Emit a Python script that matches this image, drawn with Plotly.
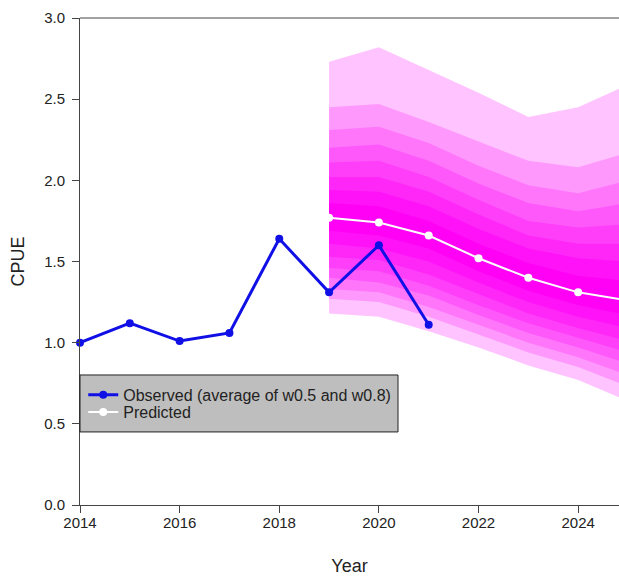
import plotly.graph_objects as go

# Observed CPUE (average of w0.5 and w0.8)
obs_years = [2014, 2015, 2016, 2017, 2018, 2019, 2020, 2021]
obs_cpue = [1.00, 1.12, 1.01, 1.06, 1.64, 1.31, 1.60, 1.11]

# Predicted median CPUE
pred_years = [2019, 2020, 2021, 2022, 2023, 2024, 2025]
pred_median = [1.77, 1.74, 1.66, 1.52, 1.40, 1.31, 1.26]

# Fan band edges, outermost first (upper side)
upper_edges = [
    [2.73, 2.82, 2.68, 2.54, 2.39, 2.45, 2.59],
    [2.45, 2.47, 2.36, 2.24, 2.12, 2.08, 2.17],
    [2.31, 2.33, 2.23, 2.09, 1.97, 1.92, 2.00],
    [2.20, 2.22, 2.12, 1.98, 1.86, 1.81, 1.86],
    [2.11, 2.12, 2.02, 1.88, 1.75, 1.71, 1.73],
    [2.02, 2.02, 1.93, 1.79, 1.66, 1.61, 1.61],
    [1.94, 1.93, 1.84, 1.70, 1.58, 1.52, 1.50],
    [1.86, 1.84, 1.75, 1.61, 1.49, 1.41, 1.38],
]
# Fan band edges, outermost first (lower side)
lower_edges = [
    [1.18, 1.16, 1.07, 0.97, 0.86, 0.77, 0.64],
    [1.27, 1.25, 1.16, 1.05, 0.94, 0.85, 0.73],
    [1.33, 1.31, 1.22, 1.11, 1.00, 0.91, 0.80],
    [1.40, 1.37, 1.29, 1.17, 1.06, 0.97, 0.87],
    [1.46, 1.44, 1.35, 1.23, 1.12, 1.03, 0.94],
    [1.53, 1.51, 1.42, 1.30, 1.18, 1.09, 1.01],
    [1.61, 1.58, 1.50, 1.37, 1.25, 1.16, 1.09],
    [1.69, 1.66, 1.58, 1.44, 1.32, 1.23, 1.17],
]
band_colors = [
    "rgb(255,196,255)",
    "rgb(255,152,253)",
    "rgb(255,118,251)",
    "rgb(255,88,250)",
    "rgb(255,62,249)",
    "rgb(255,38,248)",
    "rgb(255,18,247)",
    "rgb(255,2,246)",
]

y_ticks = [0.0, 0.5, 1.0, 1.5, 2.0, 2.5, 3.0]
x_ticks = [2014, 2016, 2018, 2020, 2022, 2024]

fig = go.Figure()

# Fan: nested bands drawn outermost to innermost
for hi, lo, col in zip(upper_edges, lower_edges, band_colors):
    fig.add_trace(go.Scatter(
        x=pred_years + pred_years[::-1],
        y=hi + lo[::-1],
        fill="toself",
        fillcolor=col,
        line=dict(width=0),
        mode="lines",
        hoverinfo="skip",
        showlegend=False,
    ))

# Predicted median line
fig.add_trace(go.Scatter(
    x=pred_years, y=pred_median,
    mode="lines+markers",
    name="Predicted",
    line=dict(color="white", width=2),
    marker=dict(color="white", size=8),
    legend="legend2",
))

# Observed series, drawn on top
fig.add_trace(go.Scatter(
    x=obs_years, y=obs_cpue,
    mode="lines+markers",
    name="Observed (average of w0.5 and w0.8)",
    line=dict(color="#1010E6", width=3),
    marker=dict(color="#1010E6", size=8),
    cliponaxis=False,
    legend="legend",
))

font_family = "Liberation Sans, Arial, sans-serif"
axis_font = dict(family=font_family, size=15, color="#222")
legend_font = dict(family=font_family, size=16, color="#222")

legend_common = dict(
    xanchor="left", yanchor="middle",
    bgcolor="rgba(0,0,0,0)", borderwidth=0,
    font=legend_font, itemwidth=30,
)

fig.update_layout(
    width=619, height=576,
    margin=dict(l=80, r=0, t=18, b=71),
    plot_bgcolor="white",
    paper_bgcolor="white",
    font=axis_font,
    legend=dict(x=0.006, y=0.226, **legend_common),
    legend2=dict(x=0.006, y=0.191, **legend_common),
    xaxis=dict(
        range=[2014, 2024.82],
        tickvals=x_ticks,
        ticks="outside", ticklen=7, tickcolor="#444",
        ticklabelstandoff=-3,
        showline=True, linecolor="#444", linewidth=1,
        showgrid=False, zeroline=False,
        automargin=False,
        title=dict(text="Year", standoff=30),
    ),
    yaxis=dict(
        range=[0, 3],
        tickvals=y_ticks,
        tickformat=".1f",
        ticks="outside", ticklen=7, tickcolor="#444",
        ticklabelstandoff=4,
        showline=True, linecolor="#444", linewidth=1,
        showgrid=False, zeroline=False,
        automargin=False,
        title=dict(text="CPUE", standoff=14),
    ),
    shapes=[
        # top frame line
        dict(type="line", xref="paper", yref="paper",
             x0=0, x1=1, y0=1, y1=1,
             line=dict(color="#444", width=1)),
        # legend box
        dict(type="rect", xref="paper", yref="paper",
             x0=0, x1=0.59, y0=0.150, y1=0.267,
             fillcolor="rgb(190,190,190)",
             line=dict(color="#222", width=1),
             layer="above"),
    ],
)

fig.write_html("out.html")
